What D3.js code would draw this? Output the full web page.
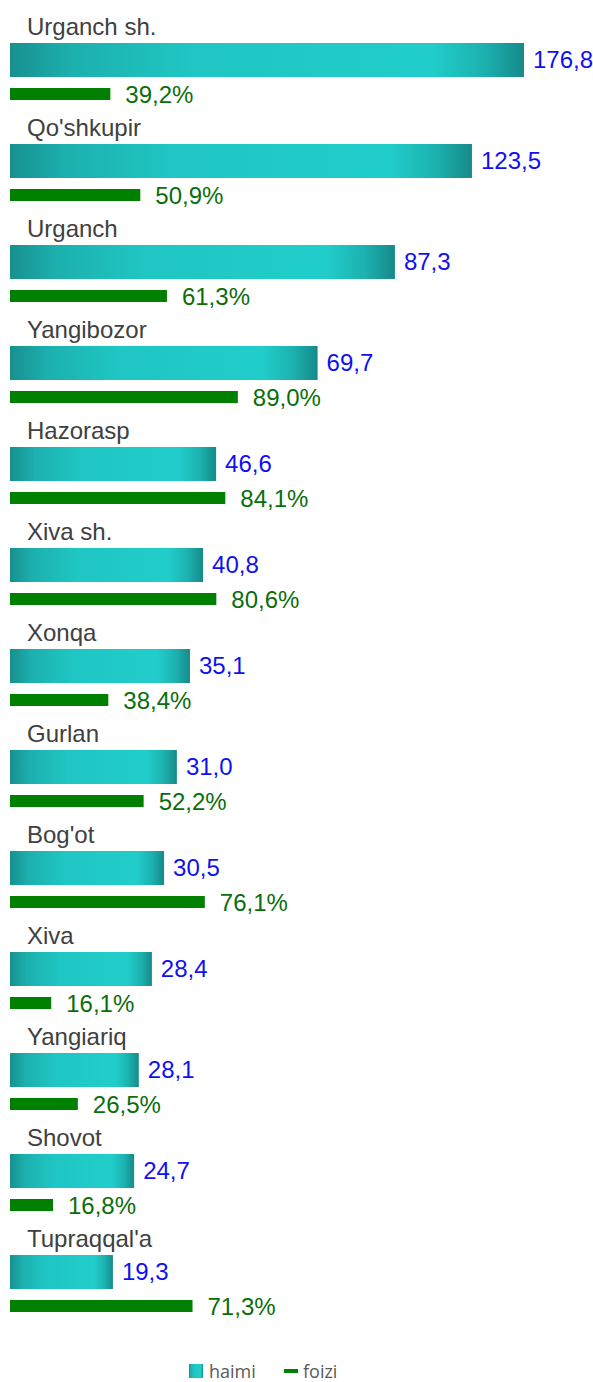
<!DOCTYPE html>
<html>
<head>
<meta charset="utf-8">
<script src="https://cdn.jsdelivr.net/npm/d3@7"></script>
<style>
  body { margin: 0; background: #fff; }
  svg { display: block; }
</style>
</head>
<body>
<svg class="chart" width="593" height="1382"></svg>
<script>
var districts = ["Urganch sh.", "Qo'shkupir", "Urganch", "Yangibozor", "Hazorasp", "Xiva sh.",
    "Xonqa", "Gurlan", "Bog'ot", "Xiva", "Yangiariq", "Shovot", "Tupraqqal'a"];
// haimi labels as printed on the chart
var haimi = [176.8, 123.5, 87.3, 69.7, 46.6, 40.8, 35.1, 31.0, 30.5, 28.4, 28.1, 24.7, 19.3];
// teal bar lengths as drawn (not proportional to the printed labels), in units of the top bar
var haimiBar = [176.8, 158.9, 132.4, 105.8, 70.9, 66.4, 61.9, 57.4, 53.0, 48.8, 44.3, 42.7, 35.4];
// foizi, percent
var foizi = [39.2, 50.9, 61.3, 89.0, 84.1, 80.6, 38.4, 52.2, 76.1, 16.1, 26.5, 16.8, 71.3];
var legendLabels = ["haimi", "foizi"];

var fmt = function(v) { return d3.format(".1f")(v).replace(".", ","); };

var chart = d3.select('.chart');
var font = "'Liberation Sans', Arial, sans-serif";

// gradient for the teal bars
var grad = chart.append('defs').append('linearGradient')
    .attr('id', 'teal')
    .attr('x1', 0).attr('x2', 1).attr('y1', 0).attr('y2', 0);
[[0, '#17908f'], [0.12, '#1cb0ae'], [0.35, '#1fc6c3'], [0.82, '#21cdca'],
 [0.92, '#1cb2b0'], [1, '#168a89']].forEach(function(s) {
    grad.append('stop').attr('offset', s[0]).attr('stop-color', s[1]);
});

var y = d3.scaleBand()
    .domain(districts)
    .range([43, 43 + 101 * districts.length])
    .padding(0);

var xBar = d3.scaleLinear().domain([0, 176.8]).range([10, 524]);
var xPct = d3.scaleLinear().domain([0, 100]).range([10, 266]);

var rows = chart.append('g').selectAll('g')
    .data(districts)
    .enter().append('g')
    .attr('transform', function(d) { return 'translate(0,' + y(d) + ')'; });

rows.append('text')
    .attr('x', 27)
    .attr('y', -8)
    .style('font-family', font)
    .style('font-size', '24px')
    .style('fill', '#404040')
    .text(function(d) { return d; });

rows.append('rect')
    .attr('x', xBar(0))
    .attr('y', 0)
    .attr('height', 34)
    .attr('width', function(d, i) { return xBar(haimiBar[i]) - xBar(0); })
    .style('fill', 'url(#teal)');

rows.append('text')
    .attr('x', function(d, i) { return xBar(haimiBar[i]) + 9; })
    .attr('y', 25)
    .style('font-family', font)
    .style('font-size', '24px')
    .style('fill', '#1010f0')
    .text(function(d, i) { return fmt(haimi[i]); });

rows.append('rect')
    .attr('x', xPct(0))
    .attr('y', 45)
    .attr('height', 12)
    .attr('width', function(d, i) { return xPct(foizi[i]) - xPct(0); })
    .style('fill', '#008000');

rows.append('text')
    .attr('x', function(d, i) { return xPct(foizi[i]) + 15; })
    .attr('y', 60)
    .style('font-family', font)
    .style('font-size', '24px')
    .style('fill', '#0a6e0a')
    .text(function(d, i) { return fmt(foizi[i]) + '%'; });

// legend
var legend = chart.append('g').attr('transform', 'translate(0,1378)');
legend.append('rect')
    .attr('x', 189).attr('y', -14).attr('width', 14).attr('height', 14)
    .style('fill', 'url(#teal)');
legend.append('rect')
    .attr('x', 284).attr('y', -9).attr('width', 14).attr('height', 4)
    .style('fill', '#008000');
legend.selectAll('text.leg')
    .data(legendLabels)
    .enter().append('text')
    .attr('class', 'leg')
    .attr('x', function(d, i) { return i === 0 ? 209 : 303; })
    .attr('y', 0)
    .style('font-family', "'Open Sans', sans-serif")
    .style('font-size', '18px')
    .style('fill', '#595959')
    .text(function(d) { return d; });
</script>
</body>
</html>
